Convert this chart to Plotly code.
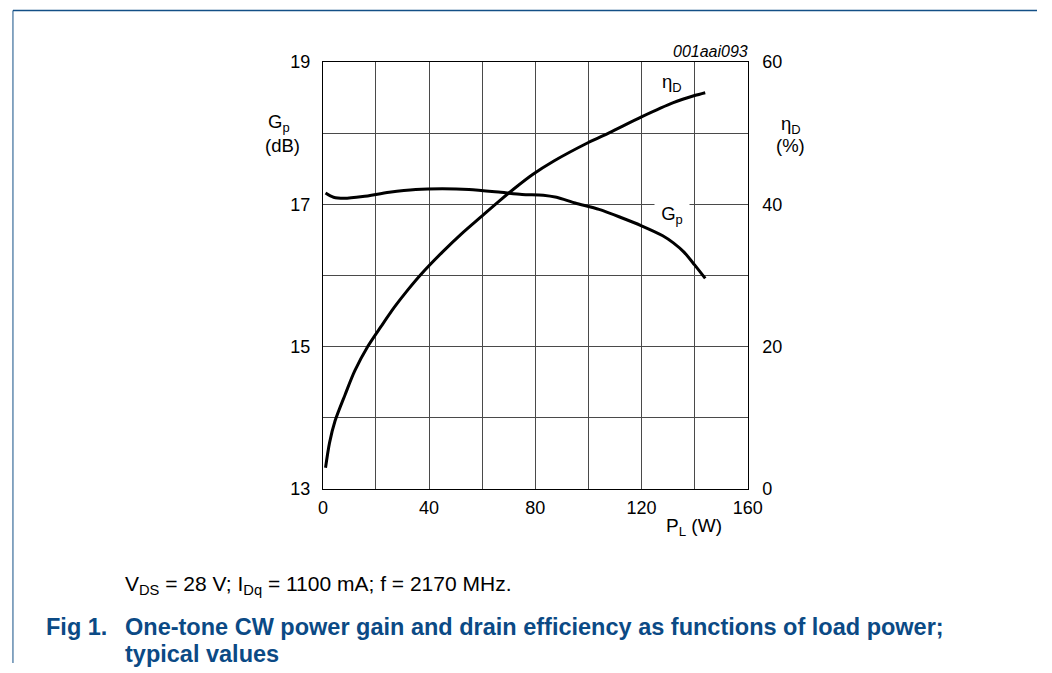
import plotly.graph_objects as go

# Data
gp_load_w = [1, 4, 8, 15, 25, 35, 45, 55, 67, 75, 83, 88, 95, 104, 112, 120, 128, 132, 136, 140, 144]
gp_db = [17.16, 17.10, 17.085, 17.11, 17.17, 17.21, 17.22, 17.21, 17.17, 17.14, 17.13, 17.10,
         17.02, 16.93, 16.82, 16.70, 16.56, 16.46, 16.33, 16.15, 15.96]

eta_load_w = [1, 2.5, 4.6, 8.4, 12, 17, 22, 27, 32, 37, 45, 52, 60, 66.5, 72, 79, 87, 100, 108,
              120, 132, 140, 144]
eta_pct = [3.0, 6.5, 9.6, 13.3, 16.6, 20.1, 22.9, 25.6, 28.0, 30.2, 33.3, 35.8, 38.4, 40.5, 42.2,
           44.2, 46.1, 48.7, 50.1, 52.3, 54.3, 55.3, 55.7]

x_ticks = [0, 40, 80, 120, 160]
gp_ticks = [13, 15, 17, 19]
eta_ticks = [0, 20, 40, 60]

W, H = 1052, 673
# observed mapping between page pixels and photographed pixels
SX, SY, OY = 0.986, 0.969, 8.0
px0, px1, py0, py1 = 319.5, 746.5, 60, 486.5   # target picture pixels of the plot area
FONT = "Liberation Sans, Arial, sans-serif"
BLUE = "#0b4a85"

def fx(p):
    return (p / SX) / W

def fy(p):
    return 1 - ((p - OY) / SY) / H

fig = go.Figure()
fig.add_trace(go.Scatter(x=gp_load_w, y=gp_db, mode="lines",
                         line=dict(color="black", width=3, shape="spline", smoothing=0.8),
                         showlegend=False, hoverinfo="skip"))
fig.add_trace(go.Scatter(x=eta_load_w, y=eta_pct, mode="lines", yaxis="y2",
                         line=dict(color="black", width=3, shape="spline", smoothing=0.8),
                         showlegend=False, hoverinfo="skip"))

grid = "#4a4a4a"
TICK = 18
fig.update_layout(
    width=W, height=H, margin=dict(l=0, r=0, t=0, b=0, pad=0),
    paper_bgcolor="white", plot_bgcolor="white",
    font=dict(family=FONT, size=16, color="black"),
    xaxis=dict(domain=[fx(px0), fx(px1)], range=[0, 160], tickvals=x_ticks,
               showgrid=True, gridcolor=grid, gridwidth=1,
               minor=dict(dtick=20, tick0=0, showgrid=True, gridcolor=grid, gridwidth=1),
               showline=True, linecolor="black", linewidth=1, mirror=True,
               ticks="outside", ticklen=2, tickcolor="white", zeroline=False,
               tickfont=dict(size=TICK, family=FONT)),
    yaxis=dict(domain=[fy(py1), fy(py0)], range=[13, 19], tickvals=gp_ticks,
               showgrid=True, gridcolor=grid, gridwidth=1,
               minor=dict(dtick=1, tick0=13, showgrid=True, gridcolor=grid, gridwidth=1),
               showline=True, linecolor="black", linewidth=1, mirror=True,
               ticks="outside", ticklen=8, tickcolor="white", zeroline=False,
               tickfont=dict(size=TICK, family=FONT)),
    yaxis2=dict(overlaying="y", side="right", range=[0, 60], tickvals=eta_ticks,
                showgrid=False, zeroline=False, showline=False,
                ticks="outside", ticklen=10, tickcolor="white",
                tickfont=dict(size=TICK, family=FONT)),
)

ann = []
def add(text, x, y, size=16, xanchor="center", yanchor="middle", color="black", bg=None, italic=False, bold=False):
    t = text
    if bold:
        t = "<b>" + t + "</b>"
    if italic:
        t = "<i>" + t + "</i>"
    d = dict(text=t, x=fx(x), y=fy(y), xref="paper", yref="paper", showarrow=False,
             xanchor=xanchor, yanchor=yanchor, font=dict(size=size, family=FONT, color=color))
    if bg:
        d["bgcolor"] = bg
    ann.append(d)

add("G<sub>p</sub>", 275, 121, size=18.5)
add("(dB)", 279, 143, size=18.5)
add("η<sub>D</sub>", 790, 123, size=18.5)
add("(%)", 790, 143, size=18.5)
add("001aai093", 749, 49, size=16, xanchor="right", italic=True)
add("P<sub>L</sub> (W)", 693, 524, size=19)
add("η<sub>D</sub>", 670, 81, size=18.5, bg="white")
add(" G<sub>p</sub> ", 670, 213, size=18.5, bg="white")
add("V<sub>DS</sub> = 28 V; I<sub>Dq</sub> = 1100 mA; f = 2170 MHz.", 119, 582, size=21, xanchor="left")
add("Fig 1.", 39, 624, size=23.5, xanchor="left", color=BLUE, bold=True)
add("One-tone CW power gain and drain efficiency as functions of load power;", 119, 624, size=23.5,
    xanchor="left", color=BLUE, bold=True)
add("typical values", 119, 651, size=23.5, xanchor="left", color=BLUE, bold=True)
fig.update_layout(annotations=ann)

# page frame lines
fig.update_layout(shapes=[
    dict(type="line", xref="paper", yref="paper", x0=fx(8), x1=1, y0=fy(8.5), y1=fy(8.5),
         line=dict(color="#134f86", width=1.5)),
    dict(type="line", xref="paper", yref="paper", x0=fx(8), x1=fx(8), y0=fy(8.5), y1=0,
         line=dict(color="#134f86", width=1)),
])

fig.write_html("out.html", config={"displayModeBar": False},
               post_script="document.documentElement.style.margin='0';document.body.style.margin='0';document.body.style.padding='0';document.body.style.overflow='hidden';")
